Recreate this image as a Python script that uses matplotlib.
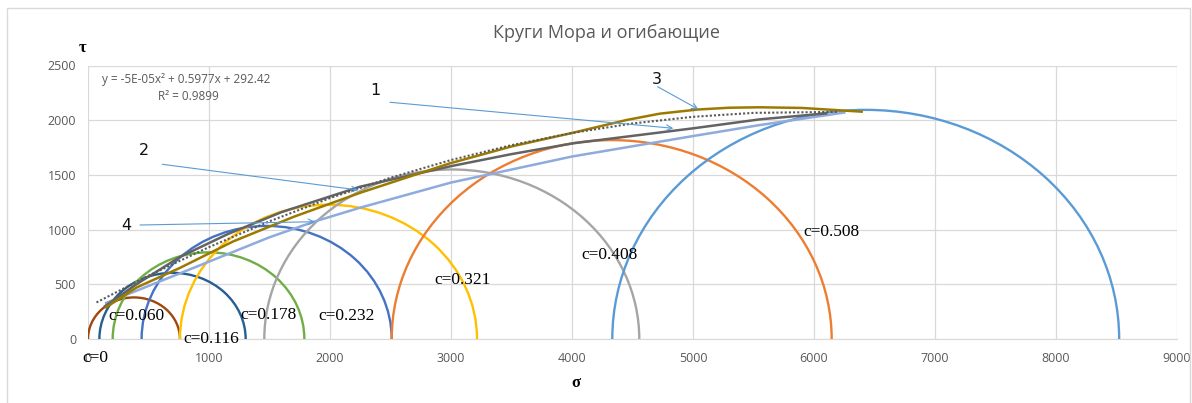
import numpy as np
import matplotlib.pyplot as plt
from matplotlib.patches import Arc, Rectangle

# Mohr circles: minor / major principal stress
sigma3 = [0, 94, 204, 443, 760, 1457, 2510, 4333]
sigma1 = [760, 1303, 1788, 2510, 3215, 4556, 6146, 8522]
circle_colors = ['#9E480E', '#255E91', '#70AD47', '#4472C4',
                 '#FFC000', '#A5A5A5', '#ED7D31', '#5B9BD5']
c_labels = ['c=0', 'c=0.060', 'c=0.116', 'c=0.178', 'c=0.232', 'c=0.321', 'c=0.408', 'c=0.508']
c_lab_x = [58, 402, 1021, 1492, 2136, 3099, 4314, 6146]
c_lab_y = [-174, 210, 0, 219, 210, 539, 768, 981]

# envelopes
env1_s = [140, 400, 760, 1157, 1600, 2248, 3000, 3500, 4011, 4452, 5003, 5554, 6100]
env1_t = [300, 500, 750, 960, 1160, 1392, 1580, 1690, 1789, 1850, 1926, 2008, 2062]
env3_s = [150, 400, 760, 1200, 1700, 2248, 2992, 3500, 4011, 4452, 4727, 5044, 5300, 5554, 5900, 6394]
env3_t = [290, 470, 650, 892, 1117, 1336, 1606, 1760, 1886, 2002, 2060, 2098, 2114, 2118, 2112, 2078]
env4_s = [150, 760, 1500, 1876, 2248, 3000, 4000, 5000, 5554, 6250]
env4_t = [330, 600, 930, 1075, 1200, 1430, 1668, 1855, 1956, 2070]
trend_s = [70, 500, 1000, 1500, 2000, 2500, 3000, 3500, 4000, 4500, 5000, 5500, 6200]
trend_t = [334, 579, 840, 1076, 1288, 1474, 1636, 1772, 1883, 1970, 2031, 2067, 2076]

# arrow labels: text pos, arrow start, arrow tip
num_labels = ['1', '2', '3', '4']
num_pos = [(2378, 2267), (463, 1721), (4700, 2374), (320, 1042)]
arrow_from = [(2496, 2164), (614, 1597), (4708, 2306), (430, 1042)]
arrow_to = [(4837, 1926), (2234, 1362), (5044, 2100), (1876, 1072)]

fig = plt.figure(figsize=(11.92, 4.03), dpi=100)
ax = fig.add_axes([88/1192, 1-339/403, (1177-88)/1192, (339-65.5)/403])

for s3, s1, col in zip(sigma3, sigma1, circle_colors):
    cen = (s1 + s3) / 2.0
    d = s1 - s3
    ax.add_patch(Arc((cen, 0), d, d, theta1=0, theta2=180, color=col, lw=1.7, zorder=3))

ax.plot(env4_s, env4_t, color='#8FAADC', lw=1.8, zorder=4)
ax.plot(env1_s, env1_t, color='#636363', lw=1.8, zorder=4)
ax.plot(env3_s, env3_t, color='#9C7A00', lw=1.8, zorder=5)
ax.plot(trend_s, trend_t, color='#595959', lw=1.5, ls=(0, (1, 1)), zorder=6)

for txt, x, y in zip(c_labels, c_lab_x, c_lab_y):
    ax.text(x, y, txt, family='Liberation Serif', fontsize=12.5, ha='center', va='center',
            zorder=8, clip_on=False)

for txt, p, a, b in zip(num_labels, num_pos, arrow_from, arrow_to):
    ax.text(p[0], p[1], txt, fontsize=11.5, ha='center', va='center', color='#111111')
    ax.annotate('', xy=b, xytext=a,
                arrowprops=dict(arrowstyle='->', color='#5B9BD5', lw=0.8,
                                shrinkA=0, shrinkB=0, mutation_scale=10), zorder=9)

ax.text(0.0126, 0.947, 'y = -5E-05x² + 0.5977x + 292.42', transform=ax.transAxes,
        fontsize=8.5, color='#595959', va='center', family='Open Sans')
ax.text(0.0918, 0.886, 'R² = 0.9899', transform=ax.transAxes,
        fontsize=8.5, color='#595959', va='center', ha='center', family='Open Sans')

ax.set_xlim(0, 9000)
ax.set_ylim(0, 2500)
ax.set_xticks(range(0, 9001, 1000))
ax.set_yticks(range(0, 2501, 500))
ax.grid(True, color='#D9D9D9', lw=0.9)
ax.set_axisbelow(True)
for side in ['left', 'top', 'right']:
    ax.spines[side].set_visible(False)
ax.spines['bottom'].set_color('#D9D9D9')
ax.tick_params(length=0, labelsize=9, labelcolor='#595959')
ax.tick_params(axis='x', pad=9)
ax.tick_params(axis='y', pad=8.6)
for lab in ax.get_xticklabels() + ax.get_yticklabels():
    lab.set_family('Open Sans')

fig.text(83/1192, 1-48/403, 'τ', family='Liberation Serif', fontweight='bold',
         fontsize=12, ha='center', va='center')
fig.text(576/1192, 1-383/403, 'σ', family='Liberation Serif', fontweight='bold',
         fontsize=12, ha='center', va='center')
fig.text(606.7/1192, 1-33/403, 'Круги Мора и огибающие', family='Open Sans',
         fontsize=13, color='#595959', ha='center', va='center')

fig.patches.append(Rectangle((7/1192, -0.02), 1183/1192, 395/403 + 0.02,
                             transform=fig.transFigure, fill=False,
                             edgecolor='#D9D9D9', lw=1))

fig.savefig('out.png', dpi=100)
